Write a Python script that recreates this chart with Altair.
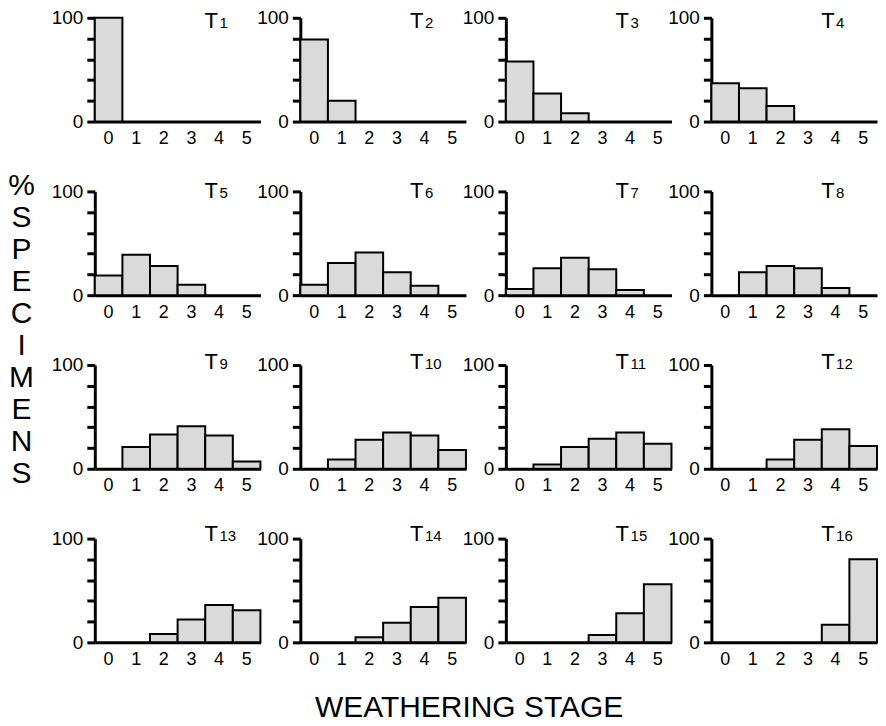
import altair as alt
import pandas as pd

stages = [0, 1, 2, 3, 4, 5]
panel_names = [str(i) for i in range(1, 17)]
T1 = [100, 0, 0, 0, 0, 0]
T2 = [79, 20, 0, 0, 0, 0]
T3 = [58, 27, 8, 0, 0, 0]
T4 = [37, 32, 15, 0, 0, 0]
T5 = [19, 39, 28, 10, 0, 0]
T6 = [10, 31, 41, 22, 9, 0]
T7 = [6, 26, 36, 25, 5, 0]
T8 = [0, 22, 28, 26, 7, 0]
T9 = [0, 21, 33, 41, 32, 7]
T10 = [0, 9, 28, 35, 32, 18]
T11 = [0, 4, 21, 29, 35, 24]
T12 = [0, 0, 9, 28, 38, 22]
T13 = [0, 0, 8, 22, 36, 31]
T14 = [0, 0, 5, 19, 34, 43]
T15 = [0, 0, 0, 7, 28, 56]
T16 = [0, 0, 0, 0, 17, 80]
y_ticks = [0, 20, 40, 60, 80, 100]
y_letters = ["%", "S", "P", "E", "C", "I", "M", "E", "N", "S"]
x_title = "WEATHERING STAGE"

series = [T1, T2, T3, T4, T5, T6, T7, T8, T9, T10, T11, T12, T13, T14, T15, T16]

FONT = "Liberation Sans"
W, H = 166, 104
label_y = [10, 7, 4, 2]


def panel(idx):
    row = idx // 4
    df = pd.DataFrame({"stage": stages, "pct": series[idx]})
    bars = (
        alt.Chart(df)
        .transform_filter("datum.pct > 0")
        .mark_bar(fill="#dadada", stroke="black", strokeWidth=2)
        .encode(
            x=alt.X(
                "stage:O",
                scale=alt.Scale(domain=stages, paddingInner=0, paddingOuter=0),
                axis=alt.Axis(
                    title=None, labelAngle=0, ticks=False, tickSize=0,
                    labelPadding=8, labelFontSize=18, labelFont=FONT,
                    labelColor="black", domainColor="black", domainWidth=3,
                    grid=False,
                ),
            ),
            y=alt.Y(
                "pct:Q",
                scale=alt.Scale(domain=[0, 100], nice=False),
                axis=alt.Axis(
                    title=None, values=y_ticks,
                    labelExpr="datum.value == 0 || datum.value == 100 ? datum.label : ''",
                    tickSize=8, tickWidth=3, tickColor="black",
                    domainColor="black", domainWidth=3, labelPadding=4,
                    labelFontSize=19, labelFont=FONT, labelColor="black",
                    grid=False,
                ),
            ),
        )
    )
    tdf = pd.DataFrame({"t": ["T"], "n": [panel_names[idx]]})
    t_lab = alt.Chart(tdf).mark_text(
        align="left", baseline="alphabetic", fontSize=22, font=FONT, color="black"
    ).encode(text="t:N", x=alt.value(110), y=alt.value(label_y[row]))
    n_lab = alt.Chart(tdf).mark_text(
        align="left", baseline="alphabetic", fontSize=15, font=FONT, color="black"
    ).encode(text="n:N", x=alt.value(125), y=alt.value(label_y[row]))
    return alt.layer(bars, t_lab, n_lab).properties(
        width=W, height=H,
        view=alt.ViewConfig(stroke="transparent", strokeWidth=0),
    )


grid = alt.concat(
    *[panel(i) for i in range(16)],
    columns=4,
    spacing={"row": 70, "column": 40},
    bounds="flush",
    title=alt.TitleParams(
        text=y_letters, orient="left", angle=0, anchor="end",
        align="center", baseline="middle", fontSize=30, lineHeight=32,
        font=FONT, fontWeight="normal", color="black", offset=3, dy=178,
    ),
)

chart = (
    alt.vconcat(
        grid,
        title=alt.TitleParams(
            text=x_title, orient="bottom", anchor="middle", fontSize=30,
            font=FONT, fontWeight="normal", color="black", offset=25, dx=26,
        ),
    )
    .properties(padding={"left": 0, "top": 0, "right": 0, "bottom": 0})
    .configure_view(stroke="transparent", strokeWidth=0)
    .configure(background="white")
)

chart.save("out.html", embed_options={"renderer": "svg", "actions": False})
